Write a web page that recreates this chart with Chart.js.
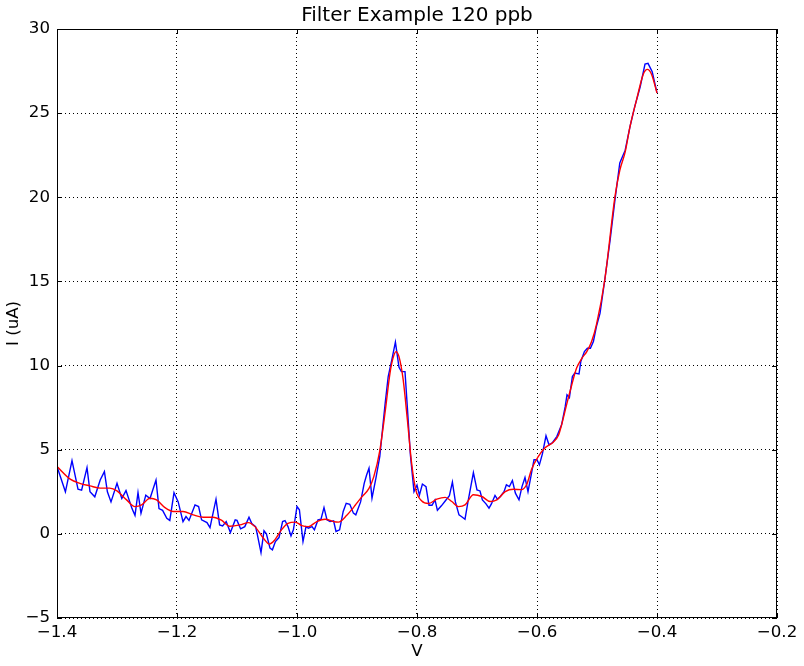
<!DOCTYPE html>
<html>
<head>
<meta charset="utf-8">
<title>Filter Example 120 ppb</title>
<script src="https://cdn.jsdelivr.net/npm/chart.js@4.4.0/dist/chart.umd.min.js"></script>
<style>
  html, body { margin: 0; padding: 0; background: #fff; }
  #chart { display: block; }
</style>
</head>
<body>
<canvas id="chart" width="804" height="666"></canvas>
<script>
const chartTitle = "Filter Example 120 ppb";

// raw signal (blue)
const rawV = [-1.400, -1.386, -1.375, -1.365, -1.359, -1.350, -1.345, -1.337, -1.328, -1.321,
  -1.316, -1.310, -1.300, -1.292, -1.285, -1.275, -1.270, -1.265, -1.260, -1.252,
  -1.245, -1.235, -1.230, -1.224, -1.217, -1.212, -1.205, -1.198, -1.190, -1.185,
  -1.180, -1.170, -1.164, -1.159, -1.150, -1.145, -1.135, -1.129, -1.124, -1.118,
  -1.111, -1.103, -1.100, -1.094, -1.087, -1.080, -1.075, -1.069, -1.066, -1.060,
  -1.055, -1.051, -1.045, -1.041, -1.036, -1.030, -1.024, -1.020, -1.015, -1.010,
  -1.006, -1.000, -0.996, -0.990, -0.985, -0.981, -0.975, -0.971, -0.965, -0.960,
  -0.955, -0.950, -0.945, -0.939, -0.935, -0.929, -0.923, -0.918, -0.912, -0.906,
  -0.902, -0.894, -0.888, -0.884, -0.880, -0.875, -0.868, -0.862, -0.857, -0.853,
  -0.848, -0.842, -0.836, -0.830, -0.826, -0.820, -0.816, -0.811, -0.805, -0.800,
  -0.796, -0.791, -0.785, -0.780, -0.775, -0.770, -0.766, -0.759, -0.753, -0.746,
  -0.741, -0.736, -0.730, -0.726, -0.720, -0.715, -0.706, -0.700, -0.695, -0.691,
  -0.685, -0.680, -0.676, -0.670, -0.666, -0.661, -0.655, -0.651, -0.646, -0.641,
  -0.636, -0.630, -0.625, -0.620, -0.615, -0.610, -0.605, -0.600, -0.596, -0.591,
  -0.585, -0.580, -0.574, -0.567, -0.559, -0.553, -0.550, -0.546, -0.541, -0.537,
  -0.530, -0.527, -0.521, -0.516, -0.511, -0.506, -0.501, -0.495, -0.487, -0.478,
  -0.470, -0.462, -0.453, -0.445, -0.437, -0.428, -0.420, -0.415, -0.408, -0.400];
const rawI = [4.00, 2.50, 4.35, 2.65, 2.60, 3.94, 2.50, 2.20, 3.20, 3.70,
  2.50, 1.90, 3.00, 2.10, 2.57, 1.50, 1.10, 2.45, 1.23, 2.30,
  2.10, 3.20, 1.50, 1.40, 0.93, 0.80, 2.45, 1.90, 0.73, 1.03,
  0.80, 1.72, 1.62, 0.83, 0.67, 0.37, 2.06, 0.53, 0.47, 0.73,
  0.08, 0.83, 0.80, 0.30, 0.43, 0.99, 0.59, 0.43, -0.06, -1.11,
  0.18, 0.00, -0.85, -0.95, -0.46, -0.22, 0.73, 0.79, 0.43, -0.12,
  0.24, 1.62, 1.43, -0.46, 0.43, 0.34, 0.43, 0.24, 0.83, 0.87,
  1.56, 0.83, 0.73, 0.77, 0.14, 0.24, 1.33, 1.82, 1.76, 1.23,
  1.13, 1.90, 3.00, 3.50, 3.90, 2.12, 3.40, 4.60, 6.38, 7.77,
  9.35, 10.34, 11.39, 9.90, 9.64, 9.64, 7.47, 4.69, 2.51, 2.90,
  2.30, 2.96, 2.81, 1.70, 1.70, 2.02, 1.40, 1.68, 1.95, 2.27,
  3.08, 1.90, 1.13, 1.03, 0.87, 1.92, 3.64, 2.61, 2.55, 2.02,
  1.78, 1.53, 1.78, 2.28, 2.06, 2.22, 2.51, 2.91, 2.81, 3.17,
  2.42, 2.02, 2.81, 3.35, 2.51, 3.45, 4.40, 4.40, 4.10, 4.75,
  5.83, 5.29, 5.43, 5.78, 6.48, 7.56, 8.26, 8.10, 9.35, 9.55,
  9.50, 10.24, 10.83, 11.03, 11.03, 11.43, 12.32, 13.10, 15.10, 17.50,
  19.86, 22.04, 22.80, 24.20, 25.40, 26.57, 27.92, 27.96, 27.46, 26.20];

// filtered signal (red)
const filtV = [-1.400, -1.378, -1.362, -1.345, -1.328, -1.312, -1.300, -1.284, -1.270, -1.259,
  -1.245, -1.234, -1.220, -1.206, -1.190, -1.173, -1.156, -1.140, -1.126, -1.112,
  -1.095, -1.081, -1.070, -1.056, -1.046, -1.037, -1.026, -1.015, -1.003, -0.992,
  -0.981, -0.967, -0.953, -0.939, -0.931, -0.917, -0.909, -0.903, -0.892, -0.880,
  -0.872, -0.862, -0.853, -0.845, -0.840, -0.835, -0.830, -0.823, -0.816, -0.809,
  -0.802, -0.792, -0.781, -0.767, -0.753, -0.742, -0.731, -0.720, -0.706, -0.692,
  -0.678, -0.667, -0.653, -0.639, -0.626, -0.617, -0.609, -0.598, -0.587, -0.573,
  -0.564, -0.559, -0.550, -0.542, -0.534, -0.525, -0.517, -0.509, -0.501, -0.487,
  -0.470, -0.462, -0.453, -0.445, -0.434, -0.423, -0.416, -0.409, -0.400];
const filtI = [4.00, 3.25, 3.00, 2.85, 2.72, 2.72, 2.55, 2.02, 1.62, 1.72,
  2.12, 2.02, 1.56, 1.33, 1.33, 1.13, 0.99, 0.99, 0.81, 0.45,
  0.53, 0.67, 0.43, -0.26, -0.61, -0.36, 0.24, 0.63, 0.70, 0.49,
  0.43, 0.73, 0.87, 0.73, 0.70, 1.10, 1.43, 1.70, 2.20, 2.70,
  3.40, 4.95, 7.27, 9.55, 10.44, 10.83, 10.53, 9.15, 6.77, 4.20,
  2.61, 1.95, 1.80, 2.06, 2.17, 1.92, 1.62, 1.72, 2.32, 2.22,
  1.92, 2.02, 2.51, 2.65, 2.63, 2.95, 3.84, 4.59, 5.10, 5.45,
  5.88, 6.48, 7.77, 8.86, 9.85, 10.44, 10.83, 11.43, 12.42, 15.10,
  20.06, 21.60, 22.70, 24.20, 25.80, 27.30, 27.60, 27.30, 26.20];

const xTicks = [-1.4, -1.2, -1.0, -0.8, -0.6, -0.4, -0.2];
const yTicks = [-5, 0, 5, 10, 15, 20, 25, 30];

const font = { family: "'DejaVu Sans', sans-serif", size: 16.67 };
const minus = s => s.replace('-', '\u2212');

// matplotlib style: title over the plot, inward ticks on all sides, black frame
const mplFrame = {
  id: 'mplFrame',
  afterDraw(chart) {
    const { ctx, chartArea: a, scales: { x, y } } = chart;
    ctx.save();
    ctx.strokeStyle = '#000';
    ctx.lineWidth = 1;
    ctx.beginPath();
    xTicks.forEach(v => {
      const px = Math.round(x.getPixelForValue(v)) + 0.5;
      ctx.moveTo(px, a.bottom); ctx.lineTo(px, a.bottom - 5);
      ctx.moveTo(px, a.top); ctx.lineTo(px, a.top + 5);
    });
    yTicks.forEach(v => {
      const py = Math.round(y.getPixelForValue(v)) + 0.5;
      ctx.moveTo(a.left, py); ctx.lineTo(a.left + 5, py);
      ctx.moveTo(a.right, py); ctx.lineTo(a.right - 5, py);
    });
    ctx.stroke();
    ctx.strokeRect(a.left + 0.5, a.top + 0.5, a.width - 1, a.height - 1);

    ctx.fillStyle = '#000';
    ctx.font = "20px 'DejaVu Sans', sans-serif";
    ctx.textAlign = 'center';
    ctx.textBaseline = 'middle';
    ctx.fillText(chartTitle, (a.left + a.right) / 2, 16);
    ctx.restore();
  }
};

new Chart(document.getElementById('chart'), {
  type: 'line',
  data: {
    datasets: [
      {
        label: 'filtered',
        data: filtV.map((v, i) => ({ x: v, y: filtI[i] })),
        borderColor: '#ff0000',
        borderWidth: 1.4,
        pointRadius: 0,
        cubicInterpolationMode: 'monotone',
        order: 1
      },
      {
        label: 'raw',
        data: rawV.map((v, i) => ({ x: v, y: rawI[i] })),
        borderColor: '#0000ff',
        borderWidth: 1.4,
        pointRadius: 0,
        tension: 0,
        order: 2
      }
    ]
  },
  options: {
    responsive: false,
    animation: false,
    layout: { padding: { top: 29, right: 27, left: 0, bottom: 0 } },
    plugins: { legend: { display: false }, tooltip: { enabled: false } },
    scales: {
      x: {
        type: 'linear',
        min: -1.4, max: -0.2,
        afterBuildTicks: s => { s.ticks = xTicks.map(v => ({ value: v })); },
        afterFit: s => { s.height = 48; },
        grid: { color: '#000', lineWidth: 1, drawTicks: false, borderDash: [1, 3] },
        border: { display: false, dash: [1, 3] },
        ticks: { color: '#000', font, padding: 5, maxRotation: 0,
          callback: v => minus(Number(v).toFixed(1)) },
        title: { display: true, text: 'V', color: '#000', font, padding: { top: 0, bottom: 4 } }
      },
      y: {
        min: -5, max: 30,
        afterBuildTicks: s => { s.ticks = yTicks.map(v => ({ value: v })); },
        afterFit: s => { s.width = 57; },
        grid: { color: '#000', lineWidth: 1, drawTicks: false },
        border: { display: false, dash: [1, 3] },
        ticks: { color: '#000', font, padding: 7,
          callback: v => minus(String(v)) },
        title: { display: true, text: 'I (uA)', color: '#000', font, padding: { top: 4, bottom: 0 } }
      }
    }
  },
  plugins: [mplFrame]
});
</script>
</body>
</html>
